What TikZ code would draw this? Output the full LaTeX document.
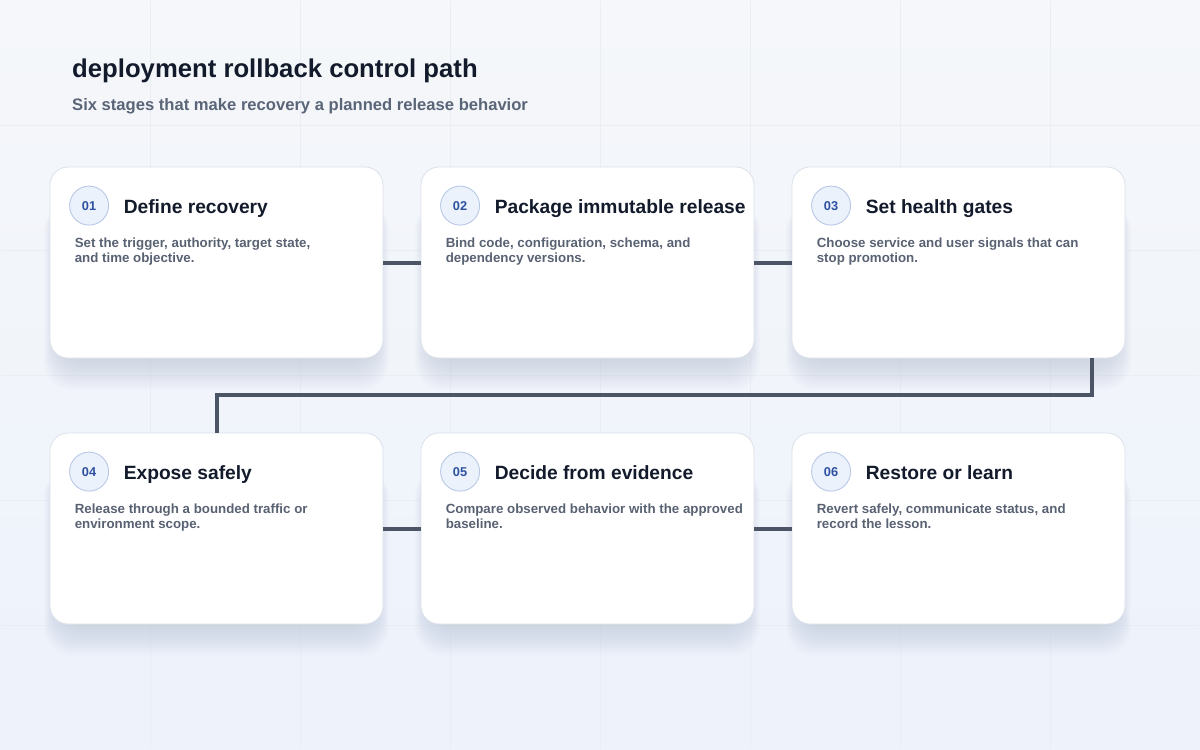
\documentclass[tikz,border=0pt]{standalone}
\usepackage{fontspec}
\setmainfont{Liberation Sans}
\usetikzlibrary{positioning}

\definecolor{bgtop}{HTML}{F5F7FA}
\definecolor{bgbot}{HTML}{EDF2FB}
\definecolor{gridc}{HTML}{EAEEF4}
\definecolor{cardline}{HTML}{DCE2EB}
\definecolor{shadowc}{HTML}{9AA6BC}
\definecolor{ink}{HTML}{121A2B}
\definecolor{subink}{HTML}{5A6577}
\definecolor{descink}{HTML}{596273}
\definecolor{badgefill}{HTML}{ECF2FC}
\definecolor{badgeline}{HTML}{B8C8E6}
\definecolor{badgeink}{HTML}{2D51A0}
\definecolor{linkc}{HTML}{4B5566}

\begin{document}
\begin{tikzpicture}[x=1pt,y=-1pt,
  card/.style={draw=cardline, line width=0.8pt, fill=white, rounded corners=18pt,
    minimum width=333pt, minimum height=191pt, inner sep=0pt},
  cardshadow/.style={fill=shadowc, opacity=0.032, rounded corners=28pt},
  badge/.style={circle, draw=badgeline, line width=0.9pt, fill=badgefill,
    minimum size=39pt, inner sep=0pt, text=badgeink, font=\fontsize{12.8}{14}\selectfont\bfseries},
  stagetitle/.style={anchor=base west, inner sep=0pt, text=ink,
    font=\fontsize{19.2}{22}\selectfont\bfseries},
  stagetext/.style={anchor=north west, inner sep=0pt, align=left, text=descink,
    font=\fontsize{13.3}{15}\selectfont\bfseries},
  link/.style={draw=linkc, line width=4pt}]
\useasboundingbox (0,0) rectangle (1200,750);

% Draw background and faint grid
\shade[top color=bgtop, bottom color=bgbot] (0,0) rectangle (1200,750);
\draw[gridc, line width=0.6pt, xstep=150pt, ystep=125pt] (1,1) grid (1199,749);

% Draw heading
\node[anchor=base west, inner sep=0pt, text=ink, font=\fontsize{25.7}{30}\selectfont\bfseries]
  (title) at (72,77) {deployment rollback control path};
\node[anchor=base west, inner sep=0pt, text=subink, font=\fontsize{16.6}{20}\selectfont\bfseries]
  (subtitle) at (72,110) {Six stages that make recovery a planned release behavior};

% Draw soft shadows under the cards
\foreach \cx/\cy in {216.5/262.5, 587.5/262.5, 958.5/262.5, 216.5/528.5, 587.5/528.5, 958.5/528.5}
  \foreach \i in {1,...,12}
    \fill[cardshadow] (\cx-158-1.2*\i, \cy-60) rectangle (\cx+158+1.2*\i, \cy+95.5+1+2.6*\i);

%Draw stage 1
\node[card] (c1) at (216.5,262.5) {};
\node[badge] (b1) at ([shift={(39.5,39)}]c1.north west) {01};
\node[stagetitle] (t1) at ([shift={(74,46.5)}]c1.north west) {Define recovery};
\node[stagetext] (d1) at ([shift={(25,71.5)}]c1.north west) {Set the trigger, authority, target state,\\and time objective.};

%Draw stage 2
\node[card] (c2) at (587.5,262.5) {};
\node[badge] (b2) at ([shift={(39.5,39)}]c2.north west) {02};
\node[stagetitle] (t2) at ([shift={(74,46.5)}]c2.north west) {Package immutable release};
\node[stagetext] (d2) at ([shift={(25,71.5)}]c2.north west) {Bind code, configuration, schema, and\\dependency versions.};

%Draw stage 3
\node[card] (c3) at (958.5,262.5) {};
\node[badge] (b3) at ([shift={(39.5,39)}]c3.north west) {03};
\node[stagetitle] (t3) at ([shift={(74,46.5)}]c3.north west) {Set health gates};
\node[stagetext] (d3) at ([shift={(25,71.5)}]c3.north west) {Choose service and user signals that can\\stop promotion.};

%Draw stage 4
\node[card] (c4) at (216.5,528.5) {};
\node[badge] (b4) at ([shift={(39.5,39)}]c4.north west) {04};
\node[stagetitle] (t4) at ([shift={(74,46.5)}]c4.north west) {Expose safely};
\node[stagetext] (d4) at ([shift={(25,71.5)}]c4.north west) {Release through a bounded traffic or\\environment scope.};

%Draw stage 5
\node[card] (c5) at (587.5,528.5) {};
\node[badge] (b5) at ([shift={(39.5,39)}]c5.north west) {05};
\node[stagetitle] (t5) at ([shift={(74,46.5)}]c5.north west) {Decide from evidence};
\node[stagetext] (d5) at ([shift={(25,71.5)}]c5.north west) {Compare observed behavior with the approved\\baseline.};

%Draw stage 6
\node[card] (c6) at (958.5,528.5) {};
\node[badge] (b6) at ([shift={(39.5,39)}]c6.north west) {06};
\node[stagetitle] (t6) at ([shift={(74,46.5)}]c6.north west) {Restore or learn};
\node[stagetext] (d6) at ([shift={(25,71.5)}]c6.north west) {Revert safely, communicate status, and\\record the lesson.};

%Draw control path
\draw[link] (c1.east) -- (c2.west);
\draw[link] (c2.east) -- (c3.west);
\draw[link] ([xshift=-33pt]c3.south east) -- ++(0,37) -| (c4.north);
\draw[link] (c4.east) -- (c5.west);
\draw[link] (c5.east) -- (c6.west);
\end{tikzpicture}
\end{document}
